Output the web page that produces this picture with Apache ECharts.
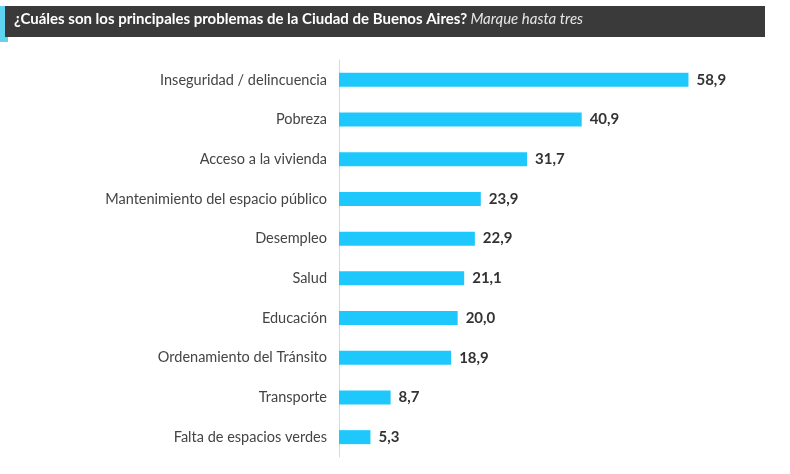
<!DOCTYPE html>
<html>
<head>
<meta charset="utf-8">
<script src="https://cdn.jsdelivr.net/npm/echarts@6/dist/echarts.min.js"></script>
<style>html,body{margin:0;background:#fff}#c{width:790px;height:474px}</style>
</head>
<body>
<div id="c"></div>
<script>
const categories = ['Inseguridad / delincuencia', 'Pobreza', 'Acceso a la vivienda', 'Mantenimiento del espacio público', 'Desempleo', 'Salud', 'Educación', 'Ordenamiento del Tránsito', 'Transporte', 'Falta de espacios verdes']
const values = [58.9, 40.9, 31.7, 23.9, 22.9, 21.1, 20.0, 18.9, 8.7, 5.3]

const chart = echarts.init(document.getElementById('c'))
chart.setOption({
  animation: false,
  textStyle: {fontFamily: 'Lato'},
  graphic: [
    {type: 'rect', shape: {x: 0, y: 6, width: 8, height: 36}, style: {fill: '#5fd3f0'}},
    {type: 'rect', shape: {x: 5, y: 6, width: 760, height: 31}, style: {fill: '#3a3a3a'}},
    {type: 'text', left: 14, top: 12, style: {
      rich: {
        b: {fill: '#fff', fontWeight: 'bold', fontSize: 15, fontFamily: 'Lato'},
        i: {fill: '#e6e6e6', fontStyle: 'italic', fontSize: 15, fontFamily: 'Lato'}
      },
      text: '{b|¿Cuáles son los principales problemas de la Ciudad de Buenos Aires?} {i|Marque hasta tres}'
    }}
  ],
  grid: {left: 339, right: 95, top: 60, bottom: 17, containLabel: false},
  xAxis: {type: 'value', min: 0, max: 60, show: false},
  yAxis: {
    type: 'category', data: categories, inverse: true,
    axisLine: {lineStyle: {color: '#d9d9d9'}},
    axisTick: {show: false},
    axisLabel: {color: '#444', fontSize: 14.5, margin: 12}
  },
  series: [{
    type: 'bar', data: values, barWidth: 14,
    itemStyle: {color: '#1ec8fc'},
    label: {show: true, position: 'right', distance: 8, color: '#333', fontWeight: 'bold', fontSize: 15,
      formatter: p => p.value.toFixed(1).replace('.', ',')}
  }]
})
</script>
</body>
</html>
